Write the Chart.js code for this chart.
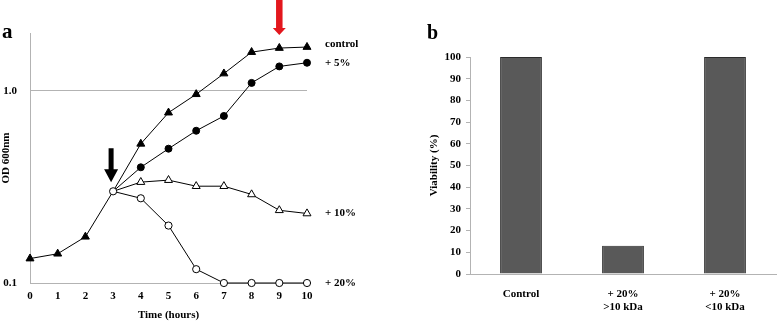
<!DOCTYPE html>
<html lang="en">
<head>
<meta charset="UTF-8">
<title>Growth and viability</title>
<script src="https://cdn.jsdelivr.net/npm/chart.js"></script>
<style>
  html, body { margin: 0; padding: 0; background: #fff; }
  .wrap { position: relative; width: 777px; height: 322px; overflow: hidden; }
  #boxA { position: absolute; left: 0; top: 0; width: 390px; height: 322px; }
  #boxB { position: absolute; left: 390px; top: 0; width: 387px; height: 322px; }
</style>
</head>
<body>
<div class="wrap">
  <div id="boxA"><canvas id="growthChart" width="390" height="322"></canvas></div>
  <div id="boxB"><canvas id="viabilityChart" width="387" height="322"></canvas></div>
</div>
<script>
// panel a: OD 600nm over time (log scale)
const hours = ['0', '1', '2', '3', '4', '5', '6', '7', '8', '9', '10'];
const odControl = [0.134, 0.142, 0.174, 0.30, 0.53, 0.77, 0.96, 1.23, 1.59, 1.67, 1.69];
const odPlus5   = [null, null, null, 0.30, 0.40, 0.50, 0.62, 0.74, 1.10, 1.34, 1.40];
const odPlus10  = [null, null, null, 0.30, 0.335, 0.343, 0.319, 0.319, 0.289, 0.239, 0.230];
const odPlus20  = [null, null, null, 0.30, 0.276, 0.199, 0.118, 0.10, 0.10, 0.10, 0.10];
const odTicks = [0.1, 1];
const odTickLabels = ['0.1', '1.0'];

// panel b: viability
const groups = ['Control', ['+ 20%', '>10 kDa'], ['+ 20%', '<10 kDa']];
const viability = [100, 13, 100];

const SERIF = "'Liberation Serif', 'Times New Roman', serif";
const AXIS_GRAY = '#b3b3b3';

Chart.defaults.font.family = SERIF;
Chart.defaults.font.weight = 'bold';
Chart.defaults.font.size = 11;
Chart.defaults.color = '#000';

// the treated series all start at t=3, where only the open circle is shown
function radii(r) { return hours.map((h, i) => i === 3 ? 0 : r); }

function downArrow(ctx, cx, top, tip, shaftW, headW, headH, color) {
    ctx.fillStyle = color;
    ctx.beginPath();
    ctx.moveTo(cx - shaftW / 2, top);
    ctx.lineTo(cx + shaftW / 2, top);
    ctx.lineTo(cx + shaftW / 2, tip - headH);
    ctx.lineTo(cx + headW / 2, tip - headH);
    ctx.lineTo(cx, tip);
    ctx.lineTo(cx - headW / 2, tip - headH);
    ctx.lineTo(cx - shaftW / 2, tip - headH);
    ctx.closePath();
    ctx.fill();
}

const growthExtras = {
    id: 'growthExtras',
    afterDraw(chart) {
        const { ctx, scales: { x, y } } = chart;
        const last = hours.length - 1;
        ctx.save();
        // series names at the right end
        ctx.font = 'bold 11px ' + SERIF;
        ctx.fillStyle = '#000';
        ctx.textAlign = 'left';
        ctx.textBaseline = 'middle';
        chart.data.datasets.forEach(ds => {
            ctx.fillText(ds.label, x.getPixelForValue(last) + 18,
                y.getPixelForValue(ds.data[last]) + (ds.labelShift || 0));
        });
        // treatment arrow (black) and sampling arrow (red)
        const tip3 = y.getPixelForValue(odControl[3]) - 9;
        downArrow(ctx, x.getPixelForValue(3) - 2, tip3 - 34, tip3, 5, 14, 13, '#000');
        const tip9 = y.getPixelForValue(odControl[9]) - 13;
        downArrow(ctx, x.getPixelForValue(9), 0, tip9, 6.5, 13, 7, '#e3171d');
        // panel letter
        ctx.fillStyle = '#000';
        ctx.font = 'bold 21px ' + SERIF;
        ctx.textBaseline = 'alphabetic';
        ctx.fillText('a', 2, 38);
        ctx.restore();
    }
};

new Chart(document.getElementById('growthChart'), {
    type: 'line',
    data: {
        labels: hours,
        datasets: [
            { label: 'control', data: odControl, order: 1, borderColor: '#000', borderWidth: 1,
              pointStyle: 'triangle', pointRadius: radii(4.6), backgroundColor: '#000', labelShift: -3 },
            { label: '+ 5%', data: odPlus5, order: 1, borderColor: '#000', borderWidth: 1,
              pointStyle: 'circle', pointRadius: radii(3.5), backgroundColor: '#000' },
            { label: '+ 10%', data: odPlus10, order: 1, borderColor: '#000', borderWidth: 1,
              pointStyle: 'triangle', pointRadius: radii(4.6), backgroundColor: '#fff', pointBorderWidth: 1 },
            { label: '+ 20%', data: odPlus20, order: 0, borderColor: '#000', borderWidth: 1,
              pointStyle: 'circle', pointRadius: 3.6, backgroundColor: '#fff', pointBorderWidth: 1 }
        ]
    },
    options: {
        responsive: false,
        animation: false,
        devicePixelRatio: 1,
        clip: false,
        layout: { padding: { top: 33, right: 83, left: 0, bottom: 0 } },
        plugins: { legend: { display: false }, tooltip: { enabled: false } },
        scales: {
            x: {
                grid: { display: false, drawTicks: false },
                border: { display: true, color: AXIS_GRAY, width: 1 },
                ticks: { padding: 7 },
                title: { display: true, text: 'Time (hours)', padding: 0 },
                afterFit(scale) { scale.height = 39; }
            },
            y: {
                type: 'logarithmic',
                min: 0.1,
                max: 2,
                afterBuildTicks(scale) { scale.ticks = odTicks.map(v => ({ value: v })); },
                ticks: { padding: 13, callback: (v, i) => odTickLabels[i] },
                grid: {
                    drawTicks: false,
                    color: c => (c.tick && c.tick.value === 1) ? AXIS_GRAY : 'rgba(0,0,0,0)'
                },
                border: { display: true, color: AXIS_GRAY, width: 1 },
                title: { display: true, text: 'OD 600nm', padding: 0 },
                afterFit(scale) { scale.width = 30; }
            }
        }
    },
    plugins: [growthExtras]
});

const viabilityExtras = {
    id: 'viabilityExtras',
    afterDraw(chart) {
        const { ctx } = chart;
        ctx.save();
        ctx.fillStyle = '#000';
        ctx.font = 'bold 20px ' + SERIF;
        ctx.textAlign = 'left';
        ctx.fillText('b', 37, 38.5);
        ctx.restore();
    }
};

new Chart(document.getElementById('viabilityChart'), {
    type: 'bar',
    data: {
        labels: groups,
        datasets: [{
            data: viability,
            backgroundColor: '#595959',
            borderColor: '#2b2b2b',
            borderWidth: 1,
            barPercentage: 0.41,
            categoryPercentage: 1
        }]
    },
    options: {
        responsive: false,
        animation: false,
        devicePixelRatio: 1,
        layout: { padding: { top: 57, right: 1, left: 0, bottom: 0 } },
        plugins: { legend: { display: false }, tooltip: { enabled: false } },
        scales: {
            x: {
                grid: { display: false, drawTicks: false },
                border: { display: true, color: AXIS_GRAY, width: 1 },
                ticks: { padding: 14, maxRotation: 0, font: { lineHeight: 1.15 } },
                afterFit(scale) { scale.height = 48; }
            },
            y: {
                min: 0,
                max: 100,
                ticks: { stepSize: 10, padding: 5 },
                grid: { drawOnChartArea: false, drawTicks: true, tickLength: 4, color: AXIS_GRAY },
                border: { display: true, color: AXIS_GRAY, width: 1 },
                title: { display: true, text: 'Viability (%)', padding: { top: 38, bottom: 0 } },
                afterFit(scale) { scale.width = 80; }
            }
        }
    },
    plugins: [viabilityExtras]
});
</script>
</body>
</html>
